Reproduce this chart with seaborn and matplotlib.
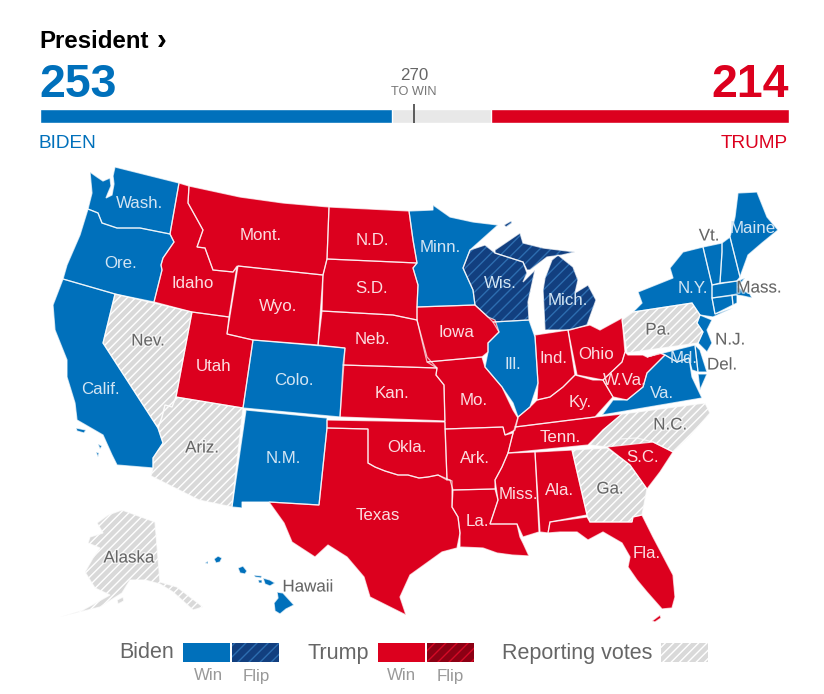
import matplotlib
matplotlib.use("Agg")
import matplotlib.pyplot as plt
import matplotlib.patheffects as pe
from matplotlib.patches import Polygon, Rectangle
import seaborn as sns

# Tally
total_votes = 538
biden_votes = 253
trump_votes = 214
to_win = 270

WA = [(90,172),(97,177),(103,181),(110,178),(111,186),(108,193),(106,198),(112,195),(114,184),(113,176),(115,167),(179,183),(170,234),(140,228),(117,228),(102,223),(98,213),(88,209),(92,193)]
OR = [(88,209),(98,213),(102,223),(117,228),(140,228),(170,234),(174,242),(163,258),(161,265),(162,270),(154,302),(115,294),(63,279),(67,265),(80,235)]
CA = [(63,279),(115,294),(103,343),(158,428),(163,443),(153,458),(153,468),(117,465),(112,455),(103,435),(77,420),(75,403),(67,377),(67,360),(55,330),(53,305)]
CA_ISL1 = [(76,428),(86,430),(84,433),(77,431)]
CA_ISL2 = [(98,444),(102,446),(100,449)]
CA_ISL3 = [(96,452),(99,453),(98,457)]
NV = [(115,294),(192,312),(176,397),(172,407),(165,405),(162,417),(158,428),(103,343)]
ID = [(179,183),(189,186),(188,203),(203,230),(197,247),(205,248),(213,270),(233,272),(237,266),(229,317),(192,312),(154,302),(162,270),(161,265),(163,258),(174,242),(170,234)]
MT = [(189,186),(240,197),(283,203),(329,207),(327,259),(323,275),(238,266),(233,272),(213,270),(205,248),(197,247),(203,230),(188,203)]
WY = [(238,266),(323,275),(318,345),(253,340),(227,334)]
UT = [(192,312),(229,317),(227,334),(253,340),(243,408),(176,397)]
AZ = [(176,397),(243,408),(232,507),(199,500),(151,476),(153,468),(153,458),(163,443),(158,428),(162,417),(165,405),(172,407)]
CO = [(253,340),(345,348),(340,417),(243,408)]
NM = [(246,410),(327,418),(327,428),(319,505),(269,502),(242,502),(242,508),(232,507)]
ND = [(329,207),(409,211),(413,240),(417,263),(327,259)]
SD = [(327,259),(417,263),(413,268),(418,285),(417,307),(417,320),(393,315),(322,311),(323,275)]
NE = [(322,311),(393,315),(417,320),(427,357),(437,368),(343,365),(345,348),(318,345)]
KS = [(343,365),(437,368),(436,375),(444,385),(445,421),(340,417)]
OK = [(327,420),(445,422),(447,480),(438,475),(428,477),(419,478),(408,475),(398,475),(385,471),(375,467),(368,463),(368,429),(327,428)]
TX = [(327,428),(368,429),(368,463),(375,467),(385,471),(398,475),(408,475),(419,478),(428,477),(438,475),(452,481),(452,507),(458,517),(460,533),(457,548),(442,552),(410,575),(400,597),(406,615),(370,597),(364,577),(347,557),(328,545),(315,557),(292,542),(284,523),(269,502),(319,505)]
MN = [(409,211),(433,210),(433,205),(450,217),(473,222),(498,225),(470,250),(463,268),(473,290),(475,305),(417,307),(418,285),(413,268),(417,263),(413,240)]
IA = [(417,307),(475,305),(488,317),(495,320),(499,332),(488,343),(488,352),(482,357),(427,362),(417,320)]
MO = [(427,362),(482,357),(485,367),(502,387),(513,410),(518,418),(515,430),(505,435),(503,427),(445,429),(444,385),(436,375),(437,368)]
AR = [(445,429),(503,427),(505,435),(513,433),(508,453),(502,467),(495,480),(495,489),(453,490),(450,480),(447,480)]
LA = [(453,490),(495,489),(498,500),(490,524),(517,524),(520,537),(523,543),(529,556),(512,555),(497,553),(483,548),(460,547),(460,533),(458,517),(452,507)]
WI = [(470,250),(485,245),(495,253),(523,262),(527,273),(523,282),(535,270),(528,302),(529,320),(493,322),(488,317),(475,305),(473,290),(463,268)]
MI_UP = [(495,250),(520,233),(523,243),(543,248),(575,252),(562,255),(547,257),(530,270),(527,270),(523,262),(495,253)]
MI_LP = [(545,330),(543,290),(545,278),(552,260),(558,255),(573,267),(578,280),(575,293),(588,285),(596,300),(587,325),(570,330)]
MI_ISLE = [(504,225),(511,221),(512,223),(506,227)]
IL = [(493,322),(529,320),(535,337),(538,383),(530,407),(518,417),(513,403),(502,387),(485,367),(488,352),(488,343),(499,332)]
IN = [(535,335),(568,330),(575,375),(563,387),(550,397),(537,400),(538,383)]
OH = [(568,330),(590,325),(600,330),(622,318),(625,352),(622,362),(603,380),(577,375)]
KY = [(537,400),(550,397),(563,387),(575,375),(593,380),(603,380),(613,397),(595,417),(515,427),(518,417),(530,407)]
TN = [(515,427),(595,417),(622,414),(603,430),(588,445),(508,453),(512,437)]
MS = [(508,453),(535,452),(539,532),(523,537),(517,524),(490,524),(498,500),(495,480),(502,467)]
AL = [(535,452),(572,450),(587,515),(550,522),(548,533),(540,532)]
GA = [(572,450),(607,448),(630,465),(647,489),(642,515),(633,517),(632,522),(590,522),(587,515)]
FL = [(550,522),(587,517),(590,522),(632,522),(633,517),(642,515),(653,537),(673,575),(675,597),(672,608),(662,609),(647,592),(637,580),(628,567),(630,557),(622,543),(603,532),(588,540),(577,532),(560,532),(548,533)]
FL_KEYS = [(652,621),(660,615),(661,618),(655,622)]
SC = [(607,447),(620,439),(637,438),(653,442),(673,452),(660,472),(647,489),(630,465)]
NC = [(622,414),(705,403),(710,413),(689,437),(673,452),(653,442),(607,447),(590,445),(603,430)]
VA = [(602,415),(613,400),(627,400),(643,387),(647,373),(657,363),(665,355),(677,362),(689,358),(692,377),(702,398)]
WV = [(622,362),(625,352),(628,355),(643,355),(647,357),(660,353),(665,355),(657,363),(647,373),(643,387),(627,400),(613,397),(603,380)]
PA = [(622,320),(633,312),(692,303),(700,315),(697,323),(703,332),(698,343),(627,353)]
NY = [(703,247),(683,252),(670,268),(673,278),(638,292),(642,303),(633,312),(692,303),(700,315),(713,317),(733,308),(715,314),(712,298),(712,285)]
VT = [(703,247),(722,243),(722,252),(720,283),(712,285)]
NH = [(722,243),(730,237),(740,277),(737,281),(720,283),(722,252)]
ME = [(730,237),(735,217),(738,193),(757,192),(767,217),(778,230),(762,243),(748,255),(740,277)]
MA = [(712,285),(737,281),(745,278),(738,287),(750,294),(752,298),(743,296),(736,295),(712,298)]
CT = [(712,298),(732,295),(733,305),(715,314)]
RI = [(732,295),(737,294),(737,303),(733,305)]
NJ = [(700,315),(712,320),(707,330),(712,343),(707,352),(698,343),(703,332),(697,323)]
DE = [(695,345),(700,350),(707,372),(698,372)]
MD = [(647,357),(695,345),(698,372),(692,370),(689,358),(677,362),(665,355),(660,353)]
VA_SHORE = [(698,374),(707,374),(700,390)]
AK = [(122,510),(155,522),(160,582),(177,587),(203,607),(193,610),(173,592),(160,584),(145,580),(130,580),(122,593),(100,607),(60,617),(83,610),(110,595),(95,588),(85,572),(93,558),(100,548),(88,543),(90,537),(103,533),(97,523),(108,515)]
AK_ISL = [(117,600),(123,597),(124,601),(118,604)]
HI_BIG = [(277,592),(283,593),(294,605),(286,609),(280,614),(275,611),(274,603),(278,598)]
HI_OAHU = [(238,568),(243,566),(247,571),(245,574),(240,573)]
HI_KAUAI = [(214,559),(218,556),(222,558),(220,562),(216,563)]
HI_MOLOKAI = [(254,575),(262,576),(261,578),(255,577)]
HI_LANAI = [(258,580),(262,580),(262,583),(259,583)]
HI_MAUI = [(263,578),(270,580),(275,583),(270,586),(265,584)]
HI_NIIHAU = [(205,563),(208,561),(208,564)]

# Who holds what
biden_wins = [WA, OR, CA, CA_ISL1, CA_ISL2, CA_ISL3, CO, NM, MN, IL, VA, NY, VT, NH, ME, MA, CT, RI, NJ, DE, MD, VA_SHORE,
              HI_BIG, HI_OAHU, HI_KAUAI, HI_MOLOKAI, HI_LANAI, HI_MAUI, HI_NIIHAU]
biden_flips = [WI, MI_UP, MI_LP, MI_ISLE]
trump_wins = [ID, MT, WY, UT, ND, SD, NE, KS, OK, TX, IA, MO, AR, LA, IN, OH, KY, TN, MS, AL, FL, FL_KEYS, SC, WV]
reporting = [NV, AZ, GA, NC, PA, AK, AK_ISL]

# State labels
blue_labels = [("Wash.",140,203),("Ore.",121,263),("Calif.",100,389),("Colo.",294,380),("N.M.",283,458),
               ("Minn.",440,247),("Wis.",500,283),("Mich.",568,300),("Ill.",513,364),("Va.",662,393),
               ("Md.",684,358),("N.Y.",693,288),("Maine",753,228)]
red_labels = [("Idaho",193,283),("Mont.",261,235),("Wyo.",278,306),("N.D.",372,240),("S.D.",372,288),
              ("Neb.",372,339),("Kan.",392,393),("Okla.",407,447),("Texas",378,516),("Utah",214,366),
              ("Iowa",456,332),("Mo.",474,400),("Ark.",475,458),("La.",477,521),("Miss.",518,494),
              ("Ala.",560,490),("Tenn.",560,437),("Ky.",580,402),("Ind.",554,358),("Ohio",596,354),
              ("W.Va.",625,380),("S.C.",643,457),("Fla.",647,553)]
gray_labels = [("Nev.",148,341),("Ariz.",202,448),("Del.",722,365),("N.J.",730,340),("Pa.",658,330),
               ("Mass.",759,288),("Vt.",709,236),("N.C.",670,425),("Ga.",610,489),("Alaska",129,558),
               ("Hawaii",308,587)]

BLUE = "#0070BB"
BLUE_DARK = "#123F7F"
BLUE_STRIPE = "#2D6DB0"
RED = "#DC001E"
RED_DARK = "#8C0014"
RED_STRIPE = "#D40A26"
GRAY = "#D9D9D9"
TEXT_GRAY = "#666666"

sns.set_theme(style="white")
plt.rcParams["font.family"] = ["Liberation Sans", "DejaVu Sans"]
plt.rcParams["hatch.linewidth"] = 1.0


def draw_shape(ax, pts, face, stripe=None, hatch="////"):
    # fill + optional stripes first, the white border goes on top
    if stripe:
        ax.add_patch(Polygon(pts, closed=True, facecolor=face, edgecolor=stripe, hatch=hatch, linewidth=0, zorder=2))
    else:
        ax.add_patch(Polygon(pts, closed=True, facecolor=face, edgecolor="none", zorder=2))
    ax.add_patch(Polygon(pts, closed=True, fill=False, edgecolor="white", linewidth=0.9, alpha=0.7, zorder=3))


def swatch(ax, x, w, face, stripe=None, hatch="////"):
    if stripe:
        ax.add_patch(Rectangle((x, 643), w, 19, facecolor=face, edgecolor=stripe, hatch=hatch, linewidth=0))
    else:
        ax.add_patch(Rectangle((x, 643), w, 19, facecolor=face, edgecolor="none"))


fig = plt.figure(figsize=(8.24, 6.94), dpi=100)
ax = fig.add_axes([0, 0, 1, 1])
ax.set_xlim(0, 824)
ax.set_ylim(694, 0)
ax.axis("off")

for pts in biden_wins:
    draw_shape(ax, pts, BLUE)
for pts in biden_flips:
    draw_shape(ax, pts, BLUE_DARK, BLUE_STRIPE, hatch="///")
for pts in trump_wins:
    draw_shape(ax, pts, RED)
for pts in reporting:
    draw_shape(ax, pts, GRAY, "white")

for name, x, y in blue_labels:
    ax.text(x, y, name, color="#D3E5F3", fontsize=12.2, ha="center", va="center", zorder=5)
for name, x, y in red_labels:
    ax.text(x, y, name, color="#FBDDE1", fontsize=12.2, ha="center", va="center", zorder=5)
for name, x, y in gray_labels:
    t = ax.text(x, y, name, color=TEXT_GRAY, fontsize=12.2, ha="center", va="center", zorder=5)
    t.set_path_effects([pe.withStroke(linewidth=2, foreground="white", alpha=0.6)])

# Header
ax.text(39, 41, "President", fontsize=17.3, fontweight="bold", color="black", va="center")
ax.text(157, 41, "\u203a", fontsize=21, fontweight="bold", color="black", va="center")
ax.text(39, 85, str(biden_votes), fontsize=33.5, fontweight="bold", color=BLUE, va="center")
ax.text(789, 85, str(trump_votes), fontsize=33.5, fontweight="bold", color=RED, va="center", ha="right")
ax.text(414, 75, str(to_win), fontsize=12.2, color=TEXT_GRAY, va="center", ha="center")
ax.text(414, 92, "TO WIN", fontsize=9.2, color="#777777", va="center", ha="center")
ax.text(39, 143, "BIDEN", fontsize=13.7, color=BLUE, va="center")
ax.text(788, 143, "TRUMP", fontsize=13.7, color=RED, va="center", ha="right")

# Tally bar on its own axes, x in electoral votes
bar_ax = fig.add_axes([40 / 824, 1 - 123 / 694, 749 / 824, 14 / 694])
sns.barplot(x=[total_votes], y=[0], orient="h", color="#E8E8E8", width=1, saturation=1, ax=bar_ax)
sns.barplot(x=[biden_votes], y=[0], orient="h", color=BLUE, width=1, saturation=1, ax=bar_ax)
sns.barplot(x=[trump_votes], y=[0], orient="h", color=RED, width=1, saturation=1, left=total_votes - trump_votes, ax=bar_ax)
bar_ax.set_xlim(0, total_votes)
bar_ax.set_ylim(0.5, -0.5)
bar_ax.axis("off")
bar_ax.set_zorder(1)
ax.set_zorder(2)
ax.patch.set_visible(False)
ax.plot([414, 414], [104, 123], color="#333333", linewidth=1.1, zorder=6, solid_capstyle="butt")

# Legend
ax.text(174, 653, "Biden", fontsize=15.5, color=TEXT_GRAY, ha="right", va="center")
swatch(ax, 183, 47, BLUE)
swatch(ax, 232, 47, BLUE_DARK, BLUE_STRIPE, hatch="///")
ax.text(369, 653, "Trump", fontsize=15.5, color=TEXT_GRAY, ha="right", va="center")
swatch(ax, 378, 47, RED)
swatch(ax, 427, 47, RED_DARK, RED_STRIPE, hatch="///")
ax.text(652, 653, "Reporting votes", fontsize=15.5, color=TEXT_GRAY, ha="right", va="center")
swatch(ax, 661, 47, GRAY, "white")
for label, x in [("Win", 208), ("Flip", 256), ("Win", 401), ("Flip", 450)]:
    ax.text(x, 676, label, fontsize=12.2, color="#999999", ha="center", va="center")

fig.savefig("out.png", dpi=100)
